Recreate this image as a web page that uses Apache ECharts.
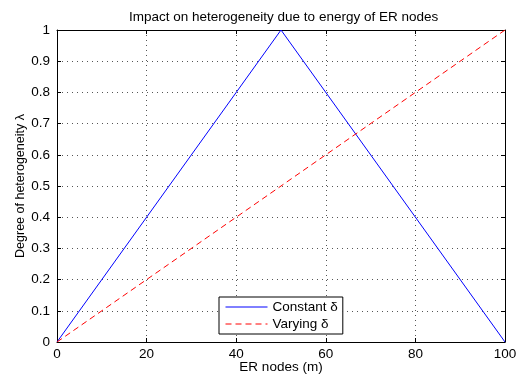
<!DOCTYPE html>
<html>
<head>
<meta charset="utf-8">
<script src="https://cdn.jsdelivr.net/npm/echarts@6/dist/echarts.min.js"></script>
<style>
  html, body { margin: 0; padding: 0; background: #fff; }
  #chart { width: 518px; height: 374px; }
</style>
</head>
<body>
<div id="chart"></div>
<script>
const xNodes = [0, 50, 100]
const constantDelta = [0, 1, 0]
const varyingX = [0, 100]
const varyingDelta = [0, 1]

const font = 'Liberation Sans, Arial, sans-serif'

const toPairs = (xs, ys) => xs.map((x, i) => [x, ys[i]])

const chart = echarts.init(document.getElementById('chart'))

const axisCommon = {
  axisLine: { show: true, onZero: false, lineStyle: { color: '#000', width: 1 } },
  axisTick: { show: true, inside: true, length: 4, lineStyle: { color: '#000' } },
  splitLine: { show: true, lineStyle: { color: '#555', type: [1, 4], width: 1 } }
}

const option = {
  animation: false,
  backgroundColor: '#fff',
  title: {
    text: 'Impact on heterogeneity due to energy of ER nodes',
    left: 124,
    top: 5,
    textStyle: { fontFamily: font, fontSize: 13.5, fontWeight: 'normal', color: '#000' }
  },
  grid: { left: 57, right: 13, top: 30, bottom: 32, show: false, outerBoundsMode: 'none', containLabel: false },
  legend: {
    orient: 'vertical',
    left: 219,
    top: 297,
    padding: [3, 5, 3, 6],
    itemGap: 3,
    itemWidth: 42,
    itemHeight: 12,
    borderColor: '#000',
    borderWidth: 1,
    backgroundColor: '#fff',
    itemStyle: { opacity: 0 },
    lineStyle: { width: 1 },
    textStyle: { fontFamily: font, fontSize: 13.5, color: '#000' },
    data: ['Constant δ', 'Varying δ']
  },
  xAxis: [
    Object.assign({}, axisCommon, {
      type: 'value', min: 0, max: 100, interval: 20,
      name: 'ER nodes (m)', nameLocation: 'middle', nameGap: 18, nameMoveOverlap: false,
      nameTextStyle: { fontFamily: font, fontSize: 13.5, color: '#000' },
      axisLabel: { fontFamily: font, fontSize: 13.5, color: '#000', margin: 5 }
    }),
    Object.assign({}, axisCommon, {
      type: 'value', min: 0, max: 100, interval: 20, position: 'top',
      axisLabel: { show: false }, splitLine: { show: false }
    })
  ],
  yAxis: [
    Object.assign({}, axisCommon, {
      type: 'value', min: 0, max: 1, interval: 0.1,
      name: 'Degree of heterogeneity λ', nameLocation: 'middle', nameGap: 30, nameMoveOverlap: false,
      nameTextStyle: { fontFamily: font, fontSize: 12.5, color: '#000' },
      axisLabel: { fontFamily: font, fontSize: 13.5, color: '#000', margin: 7,
        formatter: v => (Math.round(v * 10) / 10).toString() }
    }),
    Object.assign({}, axisCommon, {
      type: 'value', min: 0, max: 1, interval: 0.1, position: 'right',
      axisLabel: { show: false }, splitLine: { show: false }
    })
  ],
  series: [
    {
      name: 'Constant δ',
      type: 'line',
      data: toPairs(xNodes, constantDelta),
      symbol: 'none',
      color: '#0000ff',
      lineStyle: { color: '#0000ff', width: 1 }
    },
    {
      name: 'Varying δ',
      type: 'line',
      data: toPairs(varyingX, varyingDelta),
      symbol: 'none',
      color: '#ff0000',
      lineStyle: { color: '#ff0000', width: 1, type: [6, 4] }
    }
  ]
}

chart.setOption(option)
</script>
</body>
</html>
